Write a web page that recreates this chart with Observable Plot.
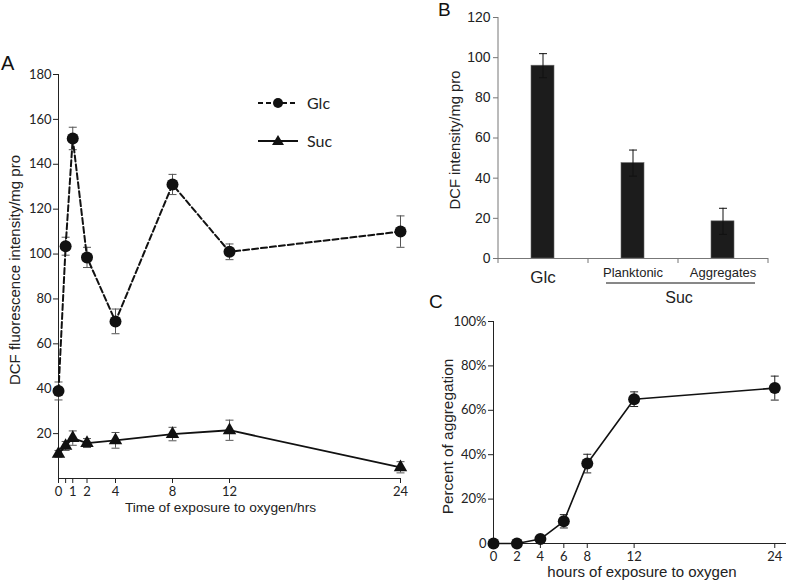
<!DOCTYPE html>
<html>
<head>
<meta charset="utf-8">
<script src="https://cdn.jsdelivr.net/npm/d3@7"></script>
<script src="https://cdn.jsdelivr.net/npm/@observablehq/plot@0.6"></script>
<style>
  html, body { margin: 0; padding: 0; background: white; }
  #fig { position: relative; width: 787px; height: 583px; overflow: hidden; font-family: "Liberation Sans", Arial, sans-serif; }
  #fig > * { position: absolute; }
</style>
</head>
<body>
<div id="fig"></div>
<script>
// ---------- Panel A data ----------
const timeA = [0, 0.5, 1, 2, 4, 8, 12, 24];
const glcValue = [39, 103.5, 151.5, 98.5, 70, 131, 101, 110];
const glcError = [4, 4, 5, 4.5, 5.5, 4.5, 3.5, 7];
const sucValue = [11, 14.5, 18, 15.8, 17, 19.8, 21.5, 5];
const sucError = [1.5, 2, 3.2, 2, 3.5, 3, 4.5, 2.5];
const xTicksA = [0, 0.5, 1, 2, 4, 8, 12, 24];
const yTicksA = [20, 40, 60, 80, 100, 120, 140, 160, 180];

// ---------- Panel B data ----------
const bCategories = ["Glc", "Planktonic", "Aggregates"];
const bValue = [96, 47.5, 18.5];
const bError = [6, 6.5, 6.5];
const yTicksB = [0, 20, 40, 60, 80, 100, 120];

// ---------- Panel C data ----------
const timeC = [0, 2, 4, 6, 8, 12, 24];
const aggValue = [0, 0, 2, 10, 36, 65, 70];
const aggError = [0, 0, 1.5, 3, 4.2, 3.3, 5.4];
const xTicksC = [0, 2, 4, 6, 8, 12, 24];
const yTicksC = [0, 20, 40, 60, 80, 100];

const glc = timeA.map((t, i) => ({t, v: glcValue[i], e: glcError[i]}));
const suc = timeA.map((t, i) => ({t, v: sucValue[i], e: sucError[i]}));
const bars = bCategories.map((c, i) => ({c, v: bValue[i], e: bError[i]}));
const agg = timeC.map((t, i) => ({t, v: aggValue[i], e: aggError[i]}));

const cap = {draw(ctx, size) { const w = Math.sqrt(size / Math.PI); ctx.moveTo(-w, 0); ctx.lineTo(w, 0); }};
const calib = "Lato, 'Open Sans', sans-serif";
const arial = "'Liberation Sans', Arial, sans-serif";

function errMarks(data, x, stroke) {
  return [
    Plot.ruleX(data.filter(d => d.e > 0), {x, y1: d => d.v - d.e, y2: d => d.v + d.e, stroke, strokeWidth: 1}),
    Plot.dot(data.filter(d => d.e > 0), {x, y: d => d.v + d.e, symbol: cap, r: 4, stroke, strokeWidth: 1, fill: "none"}),
    Plot.dot(data.filter(d => d.e > 0), {x, y: d => d.v - d.e, symbol: cap, r: 4, stroke, strokeWidth: 1, fill: "none"})
  ];
}
function yTitle(label, dx, dy, size) {
  return Plot.text([label], {text: d => d, frameAnchor: "left", textAnchor: "middle", lineAnchor: "middle", rotate: -90, dx, dy, fontFamily: arial, fontSize: size, fill: "#222"});
}
function xTitle(label, dx, dy, size) {
  return Plot.text([label], {text: d => d, frameAnchor: "bottom", textAnchor: "middle", lineAnchor: "middle", dx, dy, fontFamily: arial, fontSize: size, fill: "#222"});
}

const fig = document.getElementById("fig");

// ---------- Panel A ----------
const A = Plot.plot({
  width: 420, height: 530,
  marginLeft: 58, marginRight: 20, marginTop: 74, marginBottom: 52,
  x: {domain: [0, 24]},
  y: {domain: [0, 180]},
  style: {fontFamily: calib, fontSize: "13px", color: "#222", background: "transparent", overflow: "visible"},
  marks: [
    Plot.ruleX([0], {y1: 0, y2: 180, stroke: "#222"}),
    Plot.ruleY([0], {x1: 0, x2: 24, stroke: "#222"}),
    Plot.axisY({ticks: yTicksA, tickSize: 5, tickPadding: 2, label: null, fontSize: 13}),
    Plot.axisX({ticks: xTicksA, tickSize: 5, tickPadding: 3, label: null, fontSize: 13, tickFormat: d => d === 0.5 ? "" : d}),
    ...errMarks(glc, "t", "#555"),
    ...errMarks(suc, "t", "#555"),
    Plot.line(glc, {x: "t", y: "v", stroke: "#111", strokeWidth: 2, strokeDasharray: "6,3"}),
    Plot.line(suc, {x: "t", y: "v", stroke: "#111", strokeWidth: 1.8}),
    Plot.dot(glc, {x: "t", y: "v", r: 6, fill: "#111", stroke: "none"}),
    Plot.dot(suc, {x: "t", y: "v", r: 5, symbol: "triangle", fill: "#111", stroke: "none"}),
    yTitle("DCF fluorescence intensity/mg pro", -43, -6.5, 15),
    xTitle("Time of exposure to oxygen/hrs", -9, 29, 13.7)
  ]
});
A.style.left = "0px"; A.style.top = "0px";
fig.appendChild(A);

// ---------- Panel B ----------
const bStep = (387 - 98 - 19) / bCategories.length;
const B = Plot.plot({
  width: 387, height: 310,
  marginLeft: 98, marginRight: 19, marginTop: 17, marginBottom: 52,
  x: {domain: bCategories, paddingInner: 0.74, paddingOuter: 0.37},
  y: {domain: [0, 120]},
  style: {fontFamily: arial, fontSize: "14px", color: "#222", background: "transparent", overflow: "visible"},
  marks: [
    Plot.barY(bars, {x: "c", y: "v", fill: "#1c1c1c", stroke: "#666", strokeWidth: 0.6}),
    ...errMarks(bars, "c", "#111"),
    Plot.ruleY([0], {stroke: "#777"}),
    Plot.ruleX(["Glc"], {x: d => d, dx: -bStep / 2, y1: 0, y2: 120, stroke: "#777"}),
    Plot.axisY({ticks: yTicksB, tickSize: 5, tickPadding: 3, label: null, fontSize: 14, stroke: "#777"}),
    Plot.axisX({ticks: bCategories, tickSize: 5, text: null, dx: -bStep / 2, label: null, stroke: "#777"}),
    Plot.axisX({ticks: bCategories.slice(-1), tickSize: 5, text: null, dx: bStep / 2, label: null, stroke: "#777"}),
    Plot.axisX({ticks: ["Glc"], tickSize: 0, tickPadding: 12, label: null, fontSize: 17}),
    Plot.axisX({ticks: bCategories.slice(1), tickSize: 0, tickPadding: 9, label: null, fontSize: 13}),
    yTitle("DCF intensity/mg pro", -43, 2, 14.8)
  ]
});
B.style.left = "400px"; B.style.top = "0px";
fig.appendChild(B);

// ---------- Panel C ----------
const C = Plot.plot({
  width: 387, height: 293,
  marginLeft: 93, marginRight: 1, marginTop: 31, marginBottom: 40,
  x: {domain: [0, 25]},
  y: {domain: [0, 100]},
  style: {fontFamily: calib, fontSize: "13px", color: "#222", background: "transparent", overflow: "visible"},
  marks: [
    Plot.ruleX([0], {y1: 0, y2: 100, stroke: "#222"}),
    Plot.ruleY([0], {x1: 0, x2: 25, stroke: "#222"}),
    Plot.axisY({ticks: yTicksC, tickSize: 5, tickPadding: 2, label: null, fontSize: 13, tickFormat: d => d === 0 ? "0" : d + "%"}),
    Plot.axisX({ticks: xTicksC, tickSize: 5, tickPadding: 3, label: null, fontSize: 13}),
    ...errMarks(agg, "t", "#222"),
    Plot.line(agg, {x: "t", y: "v", stroke: "#111", strokeWidth: 1.6}),
    Plot.dot(agg, {x: "t", y: "v", r: 6, fill: "#111", stroke: "none"}),
    yTitle("Percent of aggregation", -45, 4, 15.4),
    xTitle("hours of exposure to oxygen", 2, 29, 15)
  ]
});
C.style.left = "400px"; C.style.top = "290px";
fig.appendChild(C);

// ---------- Legend (panel A), group annotation (panel B), panel letters ----------
const ns = "http://www.w3.org/2000/svg";
const over = document.createElementNS(ns, "svg");
over.setAttribute("width", 787); over.setAttribute("height", 583);
over.style.left = "0px"; over.style.top = "0px"; over.style.pointerEvents = "none";
over.innerHTML = `
  <g fill="#111" stroke="#111">
    <line x1="258" x2="298" y1="103" y2="103" stroke-width="2" stroke-dasharray="5,3"/>
    <circle cx="278" cy="103" r="5" stroke="none"/>
    <line x1="258" x2="298" y1="141" y2="141" stroke-width="1.8"/>
    <path d="M278,135 L284,145 L272,145 Z" stroke="none"/>
  </g>
  <g font-family="Lato, 'Open Sans', sans-serif" font-size="16" fill="#222">
    <text x="307" y="109">Glc</text>
    <text x="307" y="147">Suc</text>
  </g>
  <line x1="606" x2="755" y1="283" y2="283" stroke="#111" stroke-width="1"/>
  <text x="679" y="303" text-anchor="middle" font-family="'Liberation Sans', Arial, sans-serif" font-size="16" fill="#222">Suc</text>
  <g font-family="'Liberation Sans', Arial, sans-serif" fill="#111">
    <text x="1" y="70" font-size="20">A</text>
    <text x="438" y="16" font-size="19">B</text>
    <text x="429" y="308" font-size="19">C</text>
  </g>`;
fig.appendChild(over);
</script>
</body>
</html>
